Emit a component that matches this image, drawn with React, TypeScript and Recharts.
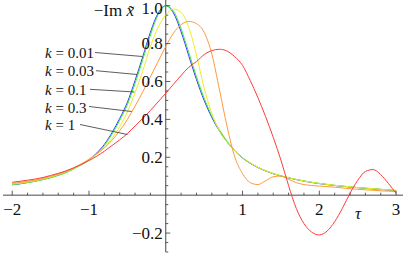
import { LineChart, Line, XAxis, YAxis, ReferenceLine } from 'recharts';

// tau grid
const TAU = [
  -2.0, -1.9, -1.8, -1.7, -1.6, -1.5, -1.4, -1.3, -1.2, -1.1,
  -1.0, -0.9, -0.8, -0.7, -0.6, -0.5, -0.4, -0.3, -0.2, -0.1,
  0.0, 0.1, 0.2, 0.3, 0.4, 0.5, 0.6, 0.7, 0.8, 0.9,
  1.0, 1.1, 1.2, 1.3, 1.4, 1.5, 1.6, 1.7, 1.8, 1.9,
  2.0, 2.1, 2.2, 2.3, 2.4, 2.5, 2.6, 2.7, 2.8, 2.9, 3.0,
];

// -Im x~ for each k
const K001 = [
  0.055, 0.060, 0.067, 0.074, 0.083, 0.093, 0.106, 0.121, 0.140, 0.162,
  0.186, 0.222, 0.268, 0.330, 0.405, 0.490, 0.605, 0.730, 0.860, 0.960,
  1.000, 0.962, 0.862, 0.735, 0.610, 0.500, 0.410, 0.338, 0.280, 0.233,
  0.196, 0.168, 0.146, 0.128, 0.113, 0.101, 0.091, 0.082, 0.074, 0.067,
  0.061, 0.056, 0.051, 0.047, 0.043, 0.040, 0.036, 0.033, 0.030, 0.027, 0.024,
];
const K003 = [
  0.055, 0.060, 0.066, 0.073, 0.082, 0.092, 0.104, 0.119, 0.138, 0.160,
  0.184, 0.218, 0.262, 0.322, 0.395, 0.478, 0.590, 0.715, 0.845, 0.952,
  0.999, 0.972, 0.878, 0.752, 0.625, 0.512, 0.418, 0.344, 0.284, 0.236,
  0.198, 0.170, 0.147, 0.129, 0.114, 0.102, 0.092, 0.083, 0.075, 0.068,
  0.062, 0.057, 0.052, 0.048, 0.044, 0.040, 0.037, 0.034, 0.031, 0.028, 0.025,
];
const K01 = [
  0.058, 0.063, 0.069, 0.076, 0.085, 0.095, 0.108, 0.123, 0.141, 0.162,
  0.186, 0.216, 0.252, 0.300, 0.362, 0.440, 0.540, 0.655, 0.785, 0.885,
  0.952, 0.982, 0.965, 0.885, 0.740, 0.565, 0.432, 0.337, 0.279, 0.234,
  0.198, 0.170, 0.147, 0.129, 0.114, 0.102, 0.092, 0.083, 0.075, 0.068,
  0.062, 0.057, 0.052, 0.048, 0.044, 0.040, 0.037, 0.034, 0.031, 0.028, 0.025,
];
const K03 = [
  0.062, 0.067, 0.073, 0.080, 0.089, 0.099, 0.111, 0.126, 0.144, 0.165,
  0.190, 0.218, 0.250, 0.290, 0.340, 0.400, 0.470, 0.545, 0.625, 0.705,
  0.785, 0.855, 0.900, 0.917, 0.905, 0.860, 0.745, 0.555, 0.360, 0.200,
  0.114, 0.066, 0.056, 0.076, 0.097, 0.101, 0.084, 0.066, 0.056, 0.051,
  0.048, 0.045, 0.042, 0.038, 0.034, 0.031, 0.028, 0.026, 0.023, 0.021, 0.019,
];
const K1 = [
  0.068, 0.073, 0.079, 0.085, 0.093, 0.104, 0.115, 0.128, 0.144, 0.162,
  0.183, 0.205, 0.232, 0.262, 0.292, 0.325, 0.365, 0.405, 0.447, 0.492,
  0.538, 0.585, 0.632, 0.675, 0.705, 0.742, 0.763, 0.770, 0.760, 0.730,
  0.685, 0.605, 0.515, 0.415, 0.305, 0.185, 0.050, -0.070, -0.150, -0.195,
  -0.210, -0.190, -0.140, -0.070, 0.010, 0.078, 0.125, 0.135, 0.108, 0.062, 0.009,
];

const SERIES = [
  { key: 'k001', label: '0.01', values: K001, color: '#3636ff' },
  { key: 'k003', label: '0.03', values: K003, color: '#3be83b' },
  { key: 'k01', label: '0.1', values: K01, color: '#eded2a' },
  { key: 'k03', label: '0.3', values: K03, color: '#ff9a3c' },
  { key: 'k1', label: '1', values: K1, color: '#ff3c3c' },
];

const X_TICKS = [
  -2, -1.8, -1.6, -1.4, -1.2, -1, -0.8, -0.6, -0.4, -0.2, 0.2, 0.4, 0.6, 0.8,
  1, 1.2, 1.4, 1.6, 1.8, 2, 2.2, 2.4, 2.6, 2.8, 3,
];
const Y_TICKS = [
  -0.3, -0.25, -0.2, -0.15, -0.1, -0.05, 0.05, 0.1, 0.15, 0.2, 0.25, 0.3, 0.35,
  0.4, 0.45, 0.5, 0.55, 0.6, 0.65, 0.7, 0.75, 0.8, 0.85, 0.9, 0.95, 1.0,
];

const data = TAU.map((t, i) => {
  const row: Record<string, number> = { t };
  SERIES.forEach(s => { row[s.key] = s.values[i]; });
  return row;
});

const W = 404;
const H = 256;
// axes take 1px each, so plot area = x 3..403, y 0..252
const M = { top: 0, right: 1, bottom: 3, left: 2 };
const PLOT = { left: 3, top: 0, width: 400, height: 252 };
const X_MIN = -2.12;
const X_MAX = 3.09;
const Y_MIN = -0.3;
const Y_MAX = 1.03;
const X0 = PLOT.left + (-X_MIN / (X_MAX - X_MIN)) * PLOT.width;
const Y0 = PLOT.top + (Y_MAX / (Y_MAX - Y_MIN)) * PLOT.height;

const FONT = "'Liberation Serif', 'Times New Roman', Times, serif";
const AX = '#333';
const TXT = { fontFamily: FONT, fontSize: 17 };

const isMajor = (v: number, step: number) => Math.abs(v / step - Math.round(v / step)) < 1e-6;
const fmtMinus = (s: string) => s.replace('-', '\u2212');

const XTick = (p: any) => {
  const v = p.payload.value as number;
  const major = isMajor(v, 1);
  return (
    <g>
      <line x1={p.x} x2={p.x} y1={Y0} y2={Y0 - (major ? 4.5 : 2.5)} stroke={AX} strokeWidth={0.8} />
      {major && (
        <text x={p.x} y={Y0 + 14} textAnchor="middle" dominantBaseline="central" style={TXT} fill="#111">
          {fmtMinus(String(v))}
        </text>
      )}
    </g>
  );
};

const YTick = (p: any) => {
  const v = p.payload.value as number;
  const major = isMajor(v, 0.2);
  return (
    <g>
      <line x1={X0} x2={X0 + (major ? 4.5 : 2.5)} y1={p.y} y2={p.y} stroke={AX} strokeWidth={0.8} />
      {major && (
        <text x={X0 - 3} y={p.y + (v > 0.99 ? 3 : 0)} textAnchor="end" dominantBaseline="central"
          style={TXT} fill="#111">
          {fmtMinus(v.toFixed(1))}
        </text>
      )}
    </g>
  );
};

// leader lines from the k labels to the curves
const NOTES = [
  { label: '0.01', ty: 53, line: [95, 52.5, 142.5, 56.5] },
  { label: '0.03', ty: 71, line: [96, 70.7, 137, 74.5] },
  { label: '0.1', ty: 89.5, line: [90, 89.3, 134.5, 92] },
  { label: '0.3', ty: 107.5, line: [89, 106.5, 131.7, 111.5] },
  { label: '1', ty: 125, line: [80, 124.5, 127.5, 134.5] },
];

export default function App() {
  return (
    <div style={{ position: 'absolute', left: 0, top: 0, width: W, height: H, background: '#fff' }}>
      <LineChart width={W} height={H} data={data} margin={M}>
        <XAxis type="number" dataKey="t" domain={[X_MIN, X_MAX]} allowDataOverflow ticks={X_TICKS}
          interval={0} height={1} axisLine={false} tickLine={false} tick={(p: any) => <XTick {...p} />} />
        <YAxis type="number" domain={[Y_MIN, Y_MAX]} allowDataOverflow ticks={Y_TICKS}
          interval={0} width={1} axisLine={false} tickLine={false} tick={(p: any) => <YTick {...p} />} />
        <ReferenceLine y={0} stroke={AX} strokeWidth={0.9} />
        <ReferenceLine x={0} stroke={AX} strokeWidth={0.9} />
        {SERIES.map(s => (
          <Line key={s.key} type="monotone" dataKey={s.key} stroke={s.color} strokeWidth={1}
            dot={false} isAnimationActive={false} />
        ))}
      </LineChart>
      <svg width={W} height={H} style={{ position: 'absolute', left: 0, top: 0, pointerEvents: 'none' }}>
        <text x={134} y={10} textAnchor="end" dominantBaseline="central" style={TXT} fill="#111">
          {'\u2212Im '}<tspan fontStyle="italic">{'x\u0303'}</tspan>
        </text>
        <text x={358} y={213} textAnchor="middle" dominantBaseline="central"
          style={{ ...TXT, fontStyle: 'italic' }} fill="#111">τ</text>
        {NOTES.map(n => (
          <g key={n.label}>
            <text x={45} y={n.ty} dominantBaseline="central"
              style={{ fontFamily: FONT, fontSize: 15 }} fill="#111">
              <tspan fontStyle="italic">k</tspan>{' = ' + n.label}
            </text>
            <line x1={n.line[0]} y1={n.line[1]} x2={n.line[2]} y2={n.line[3]} stroke="#333" strokeWidth={0.8} />
          </g>
        ))}
      </svg>
    </div>
  );
}
